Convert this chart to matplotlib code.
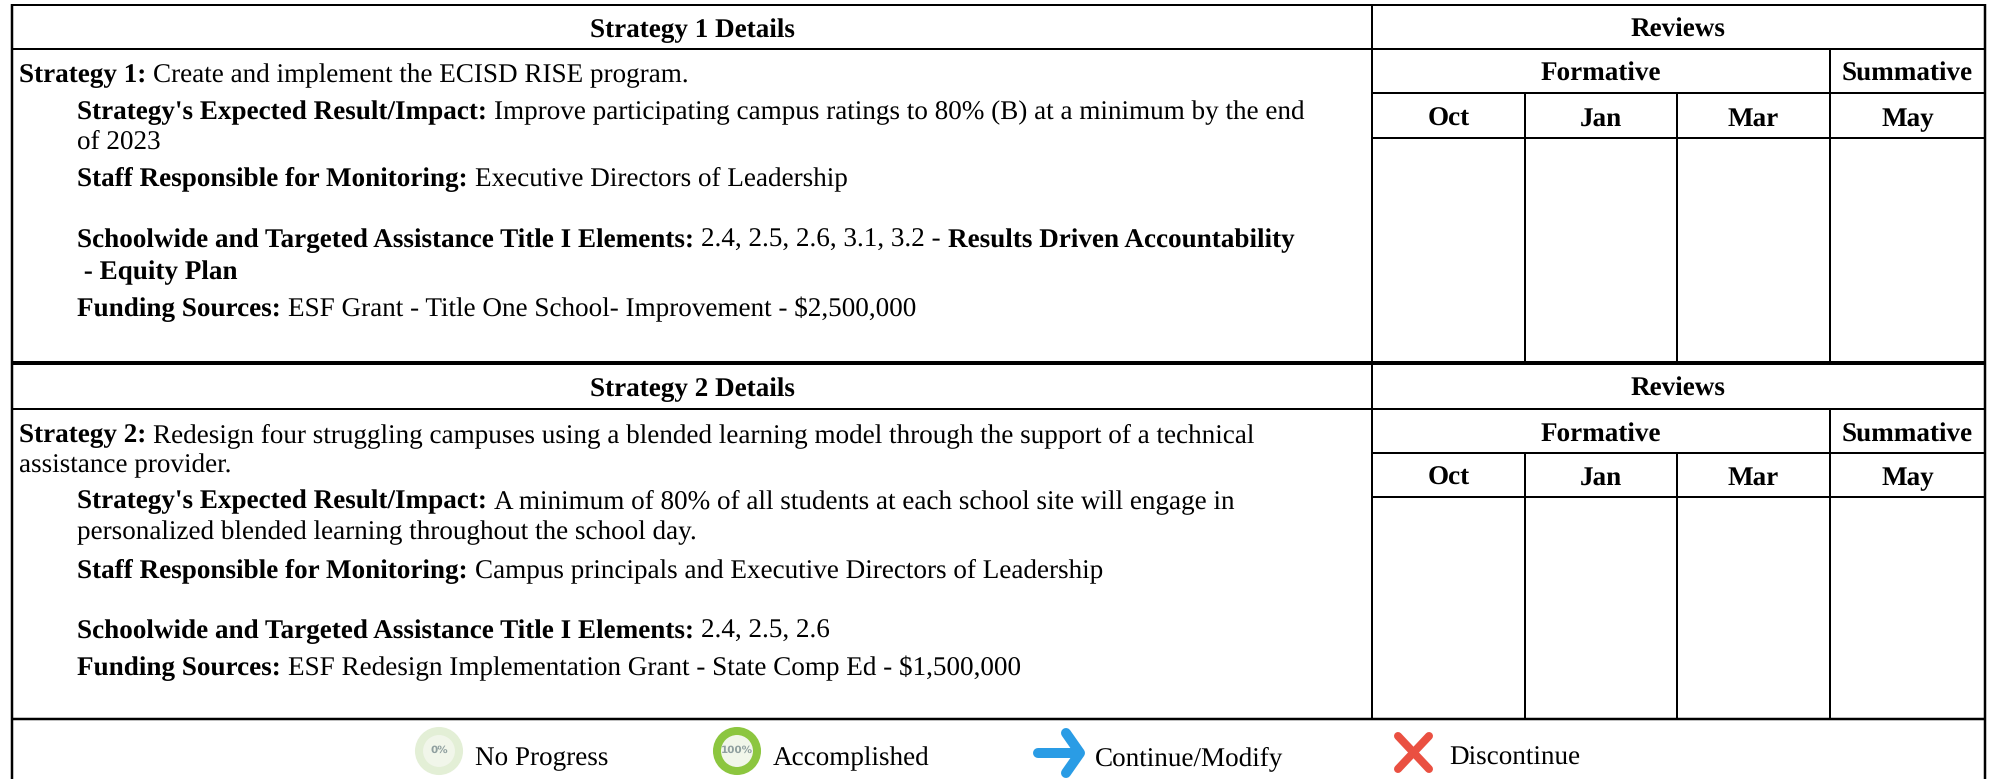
import matplotlib
matplotlib.use('Agg')
import matplotlib.pyplot as plt
import matplotlib.patches as patches

plt.rcParams['font.family'] = ['Liberation Serif', 'DejaVu Serif']
plt.rcParams['text.hinting'] = 'no_hinting'

# 表格内容
details_titles = ['Strategy 1 Details', 'Strategy 2 Details']
reviews_title = 'Reviews'
formative_title = 'Formative'
summative_title = 'Summative'
months = ['Oct', 'Jan', 'Mar', 'May']

# 每行: (是否缩进, [(文字, 是否粗体), ...])
strategy1_lines = [
    (False, [('Strategy 1:', True), ('Create and implement the ECISD RISE program.', False)]),
    (True, [("Strategy's Expected Result/Impact:", True), ('Improve participating campus ratings to 80% (B) at a minimum by the end', False)]),
    (True, [('of 2023', False)]),
    (True, [('Staff Responsible for Monitoring:', True), ('Executive Directors of Leadership', False)]),
    (True, [('Schoolwide and Targeted Assistance Title I Elements:', True), ('2.4, 2.5, 2.6, 3.1, 3.2 -', False), ('Results Driven Accountability', True)]),
    (True, [(' - Equity Plan', True)]),
    (True, [('Funding Sources:', True), ('ESF Grant - Title One School- Improvement - $2,500,000', False)]),
]
strategy2_lines = [
    (False, [('Strategy 2:', True), ('Redesign four struggling campuses using a blended learning model through the support of a technical', False)]),
    (False, [('assistance provider.', False)]),
    (True, [("Strategy's Expected Result/Impact:", True), ('A minimum of 80% of all students at each school site will engage in', False)]),
    (True, [('personalized blended learning throughout the school day.', False)]),
    (True, [('Staff Responsible for Monitoring:', True), ('Campus principals and Executive Directors of Leadership', False)]),
    (True, [('Schoolwide and Targeted Assistance Title I Elements:', True), ('2.4, 2.5, 2.6', False)]),
    (True, [('Funding Sources:', True), ('ESF Redesign Implementation Grant - State Comp Ed - $1,500,000', False)]),
]
legend_labels = ['No Progress', 'Accomplished', 'Continue/Modify', 'Discontinue']
ring_labels = ['0%', '100%']

W, H = 1993, 779
FS = 19.5

fig = plt.figure(figsize=(W / 100, H / 100), dpi=100)
ax = fig.add_axes([0, 0, 1, 1])
ax.set_xlim(0, W)
ax.set_ylim(H, 0)
ax.axis('off')

# 网格位置（像素）
x_left, x_right = 12, 1985
x_split = [1372, 1525, 1677, 1830]


def hline(y, x0=x_left, x1=x_right, px=2.0):
    ax.plot([x0, x1], [y, y], color='black', lw=px * 0.72, solid_capstyle='butt')


def vline(x, y0, y1, px=2.0):
    ax.plot([x, x], [y0, y1], color='black', lw=px * 0.72, solid_capstyle='butt')


def draw_runs(x, y, runs):
    renderer = fig.canvas.get_renderer()
    for text, bold in runs:
        t = ax.text(x, y, text, fontsize=FS, ha='left', va='baseline',
                    fontweight='bold' if bold else 'normal', color='black')
        x += t.get_window_extent(renderer).width + 7


def bold_center(x, y, text):
    ax.text(x, y, text, fontsize=FS, fontweight='bold', ha='center', va='baseline')


def draw_block(rows, baselines, lines, line_ys, title):
    top, row1, row2, row3, bottom = rows
    bold_center((x_left + x_split[0]) / 2, baselines[0], title)
    bold_center((x_split[0] + x_right) / 2, baselines[0], reviews_title)
    bold_center((x_split[0] + x_split[3]) / 2, baselines[1], formative_title)
    bold_center((x_split[3] + x_right) / 2, baselines[1], summative_title)
    edges = x_split + [x_right]
    for i, m in enumerate(months):
        bold_center((edges[i] + edges[i + 1]) / 2, baselines[2], m)
    hline(row1)
    hline(row2, x_split[0], x_right)
    hline(row3, x_split[0], x_right)
    vline(x_split[0], top, bottom)
    vline(x_split[3], row1, bottom)
    vline(x_split[1], row2, bottom)
    vline(x_split[2], row2, bottom)
    for (indent, runs), y in zip(lines, line_ys):
        draw_runs(77 if indent else 19, y, runs)


# 第一、二个策略区块
draw_block([5, 49, 93, 138, 363], [37, 81, 126], strategy1_lines,
           [82, 119, 149, 185, 247, 279, 316], details_titles[0])
draw_block([363, 409, 453, 497, 719], [396, 442, 485], strategy2_lines,
           [442, 472, 508, 539, 577, 638, 675], details_titles[1])

# 外框和粗分隔线
hline(5)
hline(363, px=4.0)
hline(719, px=2.5)
vline(x_left, 4, H, px=2.5)
vline(x_right, 4, H, px=2.5)

# 图例
for cx, ring_color, face, label in zip([439, 737], ['#e3efd6', '#8cc63f'], ['#f1f6ea', '#f1f6ea'], ring_labels):
    ax.add_patch(patches.Circle((cx, 751), 20, facecolor=face, edgecolor=ring_color, lw=8 * 0.72))
    ax.text(cx, 750, label, fontsize=7.5, fontweight='bold', color='#8f9f9f', ha='center', va='center',
            family='DejaVu Sans')

# 箭头
ax.plot([1038, 1078], [753, 753], color='#2a9ce5', lw=10 * 0.72, solid_capstyle='round')
ax.plot([1066, 1080, 1066], [733, 753, 773], color='#2a9ce5', lw=10 * 0.72,
        solid_capstyle='round', solid_joinstyle='round')
# 叉号
ax.plot([1398, 1429], [736, 769], color='#ea5041', lw=8 * 0.72, solid_capstyle='round')
ax.plot([1429, 1398], [736, 769], color='#ea5041', lw=8 * 0.72, solid_capstyle='round')

for x, label in zip([475, 773, 1095, 1449], legend_labels):
    ax.text(x, 765, label, fontsize=FS, ha='left', va='baseline')

fig.savefig('out.png', dpi=100, facecolor='white')
